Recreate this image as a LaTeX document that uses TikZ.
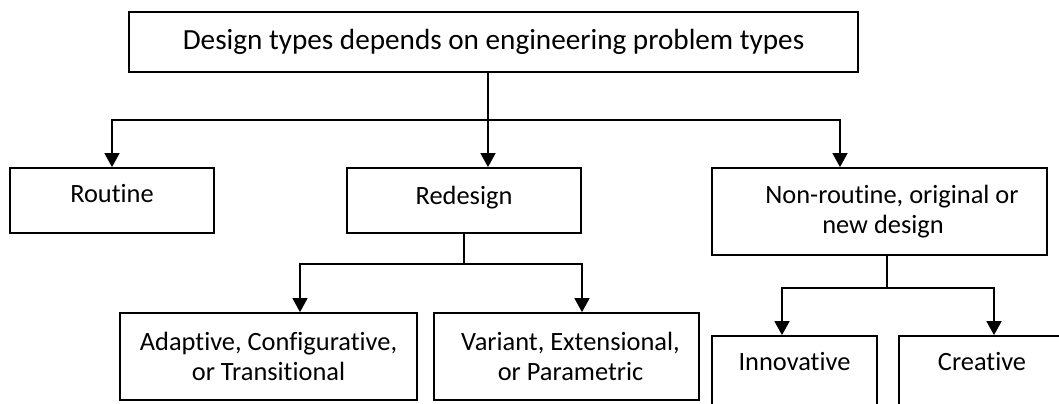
\documentclass[tikz,border=0pt]{standalone}
\usepackage{fontspec}
\setmainfont{Carlito}[Ligatures={NoCommon}]
\usetikzlibrary{arrows.meta}
\begin{document}
\begin{tikzpicture}[x=0.5pt, y=-0.5pt,
  box/.style={draw, rectangle, line width=0.9pt, inner sep=0pt,
    font=\fontsize{13.2}{15}\selectfont},
  size/.style 2 args={minimum width=#1*0.5pt, minimum height=#2*0.5pt},
  % fixes the text box so the baseline sits at a chosen height in the frame
  textpos/.style={text height=9.24pt, text depth=#1},
  twoline/.style={align=center},
  link/.style={line width=0.8pt},
  arrow/.style={link, -{Triangle[length=7pt, width=7.5pt]}},
]
\useasboundingbox (0,0) rectangle (1059,403);
\fill[white] (0,0) rectangle (1059,403);
\clip (0,0) rectangle (1059,403);

% boxes
\node[box, size={729}{60}, textpos=1.6pt, font=\fontsize{14.6}{16}\selectfont] (top) at (493.5,42)
  {Design types depends on engineering problem types};
\node[box, size={204}{65}, textpos=6.82pt] (routine) at (112,200.5) {Routine};
\node[box, size={234}{65}, textpos=4.82pt] (redesign) at (464,200.5) {Redesign};
\node[box, twoline, size={335}{87}] (nonroutine) at (879.5,211.5)
  {\hspace*{12.5pt}Non-routine, original or\\\hspace*{3.5pt}new design};
\node[box, twoline, size={297}{87}] (adaptive) at (268.5,356.5)
  {Adaptive, Configurative,\\or Transitional};
\node[box, twoline, size={265}{87}] (variant) at (566.5,356.5)
  {\hspace*{4pt}Variant, Extensional,\\\hspace*{4pt}or Parametric};
\node[box, size={165}{100}, textpos=24.32pt] (innovative) at (794.5,386) {Innovative};
\node[box, size={166}{100}, textpos=24.32pt] (creative) at (982,386) {Creative};

% branch points
\coordinate (split) at (488,120);
\coordinate (toNR) at (840,120);
\coordinate (rsplit) at (464,264);
\coordinate (toAd) at (300,264);
\coordinate (toVa) at (582,264);
\coordinate (nsplit) at (887,288);
\coordinate (toIn) at (782,288);
\coordinate (toCr) at (994,288);

% first level
\draw[link] (top.south -| split) -- (split);
\draw[arrow] (split) -| (routine.north);
\draw[arrow] (split) -- (split |- redesign.north);
\draw[arrow] (split) -- (toNR) -- (toNR |- nonroutine.north);

% redesign branches
\draw[link] (redesign.south) -- (rsplit);
\draw[arrow] (rsplit) -- (toAd) -- (toAd |- adaptive.north);
\draw[arrow] (rsplit) -- (toVa) -- (toVa |- variant.north);

% non-routine branches
\draw[link] (nonroutine.south -| nsplit) -- (nsplit);
\draw[arrow] (nsplit) -- (toIn) -- (toIn |- innovative.north);
\draw[arrow] (nsplit) -- (toCr) -- (toCr |- creative.north);
\end{tikzpicture}
\end{document}
